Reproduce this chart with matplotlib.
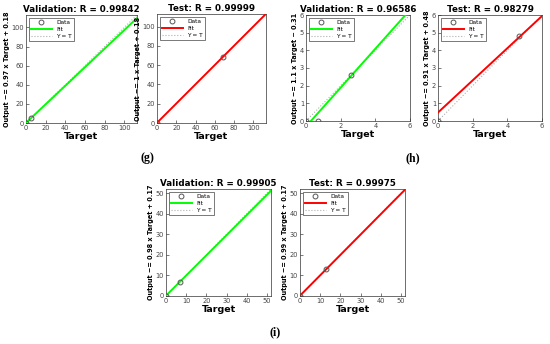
import numpy as np
import matplotlib.pyplot as plt

# ------------------ DATA ------------------

titles = ["Validation: R = 0.99842", "Test: R = 0.99999",
          "Validation: R = 0.96586", "Test: R = 0.98279",
          "Validation: R = 0.99905", "Test: R = 0.99975"]
slopes = [0.97, 1, 1.1, 0.91, 0.98, 0.99]
intercepts = [0.18, 0.18, -0.31, 0.48, 0.17, 0.17]
slope_txt = ["0.97", "1", "1.1", "0.91", "0.98", "0.99"]
icpt_txt = ["+ 0.18", "+ 0.18", "\u2212 0.31", "+ 0.48", "+ 0.17", "+ 0.17"]
targets = [[0, 5], [0, 68], [0, 0.7, 2.6], [0, 4.7], [0, 6.8], [0, 13]]
outputs = [[0, 5], [0, 68], [0, 0, 2.6], [0, 4.8], [0, 7], [0, 13]]
limits = [113, 113, 6, 6, 52, 52]
tick_steps = [20, 20, 2, 2, 10, 10]
ytick_steps = [20, 20, 1, 1, 10, 10]
fit_colors = ["#00ff00", "#ff0000", "#00ff00", "#ff0000", "#00ff00", "#ff0000"]
panel_labels = ["(g)", "(h)", "(i)"]

# axes boxes in pixels: left, right, top, bottom
W, H = 550, 344
boxes = [(26, 137, 15, 123), (157, 266, 14, 123),
         (306, 410, 15, 121), (438, 542, 15, 121),
         (166, 271, 189, 296), (300, 405, 189, 296)]
label_pos = [(147, 158), (413, 158), (275, 332)]

fig = plt.figure(figsize=(W / 100, H / 100), dpi=100)

for i in range(6):
    l, r, t, b = boxes[i]
    ax = fig.add_axes([l / W, 1 - b / H, (r - l) / W, (b - t) / H])
    lim = limits[i]
    xs = np.array([0, lim])
    ax.plot(xs, xs, ":", color="#b0b0b0", lw=0.8, label="Y = T", zorder=2)
    ax.plot(xs, slopes[i] * xs + intercepts[i], "-", color=fit_colors[i],
            lw=1.4, label="Fit", zorder=3)
    ax.plot(targets[i], outputs[i], "o", mfc="none", mec="#555555",
            ms=3.5, mew=0.7, label="Data", zorder=4)
    ax.set_xlim(0, lim)
    ax.set_ylim(0, lim)
    ax.set_xticks(np.arange(0, lim + 0.01, tick_steps[i]))
    ax.set_yticks(np.arange(0, lim + 0.01, ytick_steps[i]))
    ax.tick_params(direction="in", labelsize=4.8, length=2, width=0.5,
                   colors="#444444", pad=1.5)
    for s in ax.spines.values():
        s.set_linewidth(0.5)
        s.set_color("#333333")
    ax.set_title(titles[i], fontsize=6.3, fontweight="bold", pad=2.5)
    ax.set_xlabel("Target", fontsize=6.8, fontweight="bold", labelpad=1)
    ax.set_ylabel("Output ~= %s x Target %s" % (slope_txt[i], icpt_txt[i]),
                  fontsize=4.7, fontweight="bold", labelpad=1)
    handles, labels = ax.get_legend_handles_labels()
    ax.legend(handles[::-1], labels[::-1], loc="upper left", fontsize=4.2,
              frameon=True, fancybox=False, edgecolor="#444444",
              borderpad=0.4, handlelength=3.5, labelspacing=0.3,
              framealpha=1).get_frame().set_linewidth(0.5)

for txt, (x, y) in zip(panel_labels, label_pos):
    fig.text(x / W, 1 - y / H, txt, fontsize=8.5, fontweight="bold",
             family="Liberation Serif", ha="center", va="center")

fig.savefig("out.png", dpi=100)
